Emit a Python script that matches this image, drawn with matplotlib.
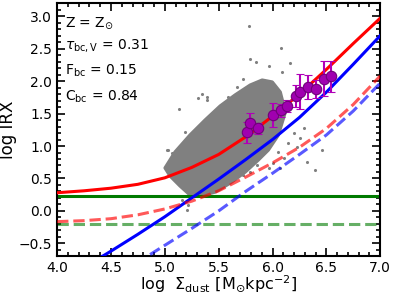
import numpy as np
import matplotlib
matplotlib.use('Agg')
import matplotlib.pyplot as plt
from matplotlib.ticker import MultipleLocator

# model curves, sampled every 0.25 dex in log Sigma_dust
x_grid = [4.0, 4.25, 4.5, 4.75, 5.0, 5.25, 5.5, 5.75, 6.0, 6.25, 6.5, 6.75, 7.0]
irx_red = [0.28, 0.31, 0.35, 0.41, 0.51, 0.67, 0.87, 1.14, 1.46, 1.80, 2.18, 2.58, 2.97]
irx_blue = [-1.13, -0.87, -0.62, -0.36, -0.09, 0.20, 0.49, 0.79, 1.10, 1.44, 1.83, 2.26, 2.70]
irx_red_dash = [-0.165, -0.15, -0.12, -0.06, 0.03, 0.15, 0.31, 0.52, 0.74, 0.98, 1.27, 1.64, 2.08]
irx_blue_dash = [-1.55, -1.30, -1.04, -0.79, -0.53, -0.27, 0.0, 0.30, 0.58, 0.87, 1.17, 1.54, 1.97]
irx_green = 0.23
irx_green_dash = -0.20

# binned measurements
bin_x = [5.767, 5.792, 5.864, 6.009, 6.083, 6.139, 6.217, 6.257, 6.325, 6.406, 6.480, 6.545]
bin_y = [1.211, 1.358, 1.272, 1.477, 1.554, 1.620, 1.769, 1.835, 1.912, 1.882, 2.035, 2.072]
bin_err = [0.16, 0.15, 0.08, 0.18, 0.10, 0.09, 0.17, 0.27, 0.19, 0.14, 0.27, 0.24]

# dense part of the galaxy-pixel cloud (outline) and the sparse points around it
cloud_x = [5.003, 5.096, 5.235, 5.375, 5.514, 5.653, 5.793, 5.904, 5.997, 6.071, 6.118,
           6.053, 5.960, 5.867, 5.746, 5.607, 5.467, 5.328, 5.235, 5.142, 5.050]
cloud_y = [0.662, 0.908, 1.169, 1.400, 1.615, 1.785, 1.938, 2.015, 1.985, 1.831, 1.523,
           1.169, 0.938, 0.785, 0.600, 0.431, 0.292, 0.231, 0.246, 0.385, 0.538]
sparse_x = [5.786, 6.080, 5.793, 5.848, 5.963, 6.164, 6.087, 5.390, 5.390, 5.730, 5.136,
            5.312, 5.189, 5.588, 5.669, 5.034, 5.065, 5.112, 5.127, 5.205, 5.158, 5.214,
            5.080, 6.288, 6.195, 6.257, 6.458, 6.319, 6.396, 6.055, 6.148, 6.102, 6.071,
            5.963, 6.009, 5.855, 5.793, 5.730, 5.637, 5.560, 6.226, 5.344, 5.019]
sparse_y = [2.851, 2.515, 2.335, 2.288, 2.235, 2.272, 2.143, 1.758, 1.708, 2.031, 1.569,
            1.734, 1.211, 1.758, 1.912, 0.938, 0.892, 0.785, 0.662, 0.015, 0.169, 0.092,
            0.605, 1.272, 1.195, 1.118, 0.938, 0.749, 0.631, 0.912, 1.051, 0.811, 0.657,
            0.657, 0.734, 0.708, 0.605, 0.554, 0.477, 0.451, 0.989, 1.800, 0.938]

fig = plt.figure(figsize=(3.94, 2.96), dpi=100)
ax = fig.add_axes([0.145, 0.134, 0.82, 0.855])

ax.fill(cloud_x, cloud_y, color='#808080', lw=2.5, joinstyle='round', zorder=1)
ax.scatter(sparse_x, sparse_y, s=5, color='#808080', lw=0, zorder=1)

ax.axhline(irx_green, color='#007a00', lw=2.2, zorder=2)
ax.axhline(irx_green_dash, color='#007a00', lw=2.2, ls='--', alpha=0.6, zorder=2)
ax.plot(x_grid, irx_red, color='red', lw=2.2, zorder=3)
ax.plot(x_grid, irx_blue, color='blue', lw=2.2, zorder=3)
ax.plot(x_grid, irx_red_dash, color='red', lw=2.2, ls='--', alpha=0.65, zorder=3)
ax.plot(x_grid, irx_blue_dash, color='blue', lw=2.2, ls='--', alpha=0.65, zorder=3)

ax.errorbar(bin_x, bin_y, yerr=bin_err, fmt='o', ms=7.5, color='#a000b0', mec='#70007a',
            mew=0.8, ecolor='#b000b8', elinewidth=1.5, capsize=3, capthick=1.5, zorder=5)

ax.text(0.025, 0.92, r'Z = Z$_{\odot}$', transform=ax.transAxes, fontsize=10, va='center')
ax.text(0.025, 0.835, r'$\tau_{\rm bc,V}$ = 0.31', transform=ax.transAxes, fontsize=10, va='center')
ax.text(0.025, 0.733, r'F$_{\rm bc}$ = 0.15', transform=ax.transAxes, fontsize=10, va='center')
ax.text(0.025, 0.63, r'C$_{\rm bc}$ = 0.84', transform=ax.transAxes, fontsize=10, va='center')

ax.set_xlim(4.0, 7.0)
ax.set_ylim(-0.7, 3.2)
ax.set_xlabel(r'log  $\Sigma_{\rm dust}$ [M$_{\odot}$kpc$^{-2}$]', fontsize=11.5, labelpad=-1)
ax.set_ylabel('log IRX', fontsize=12, labelpad=1)
ax.xaxis.set_major_locator(MultipleLocator(0.5))
ax.xaxis.set_minor_locator(MultipleLocator(0.1))
ax.yaxis.set_major_locator(MultipleLocator(0.5))
ax.yaxis.set_minor_locator(MultipleLocator(0.1))
ax.tick_params(which='both', direction='in', top=True, right=True, labelsize=10, width=1.2)
ax.tick_params(which='major', length=6)
ax.tick_params(which='minor', length=3)
for sp in ax.spines.values():
    sp.set_linewidth(1.5)

fig.savefig('out.png', dpi=100)
